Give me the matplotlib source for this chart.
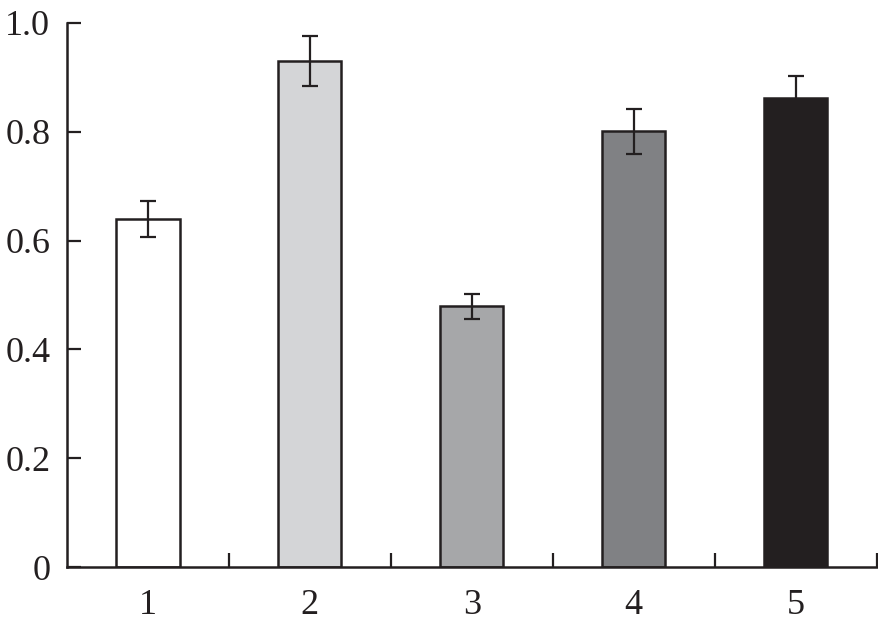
import matplotlib
matplotlib.use('Agg')
import matplotlib.pyplot as plt
import numpy as np

# values
categories = ['1', '2', '3', '4', '5']
means = [0.640, 0.930, 0.479, 0.801, 0.862]
errors = [0.033, 0.046, 0.023, 0.041, 0.041]
bar_colors = ['#ffffff', '#d4d5d7', '#a6a7a9', '#808184', '#231f20']
y_ticks = [0, 0.2, 0.4, 0.6, 0.8, 1.0]
y_tick_labels = ['0', '0.2', '0.4', '0.6', '0.8', '1.0']

plt.rcParams['font.family'] = ['Liberation Serif', 'DejaVu Serif']

fig = plt.figure(figsize=(8.79, 6.28), dpi=100)
ax = fig.add_axes([0.0762, 0.0971, 0.9210, 0.8663])

x = np.arange(1, len(categories) + 1)
edge = '#231f20'
ax.bar(x, means, width=0.39, color=bar_colors, edgecolor=edge, linewidth=1.8, zorder=2)
ax.errorbar(x, means, yerr=errors, fmt='none', ecolor=edge,
            elinewidth=1.6, capsize=6, capthick=1.6, zorder=3)

ax.set_xlim(0.5, len(categories) + 0.5)
ax.set_ylim(0, 1.0)

ax.set_xticks(x)
ax.set_xticklabels(categories)
ax.set_xticks(x + 0.5, minor=True)
ax.set_yticks(y_ticks)
ax.set_yticklabels(y_tick_labels)

for s in ['top', 'right']:
    ax.spines[s].set_visible(False)
for s in ['left', 'bottom']:
    ax.spines[s].set_linewidth(1.8)
    ax.spines[s].set_color(edge)

ax.tick_params(axis='x', which='major', length=0, pad=16, labelsize=26, colors=edge)
ax.tick_params(axis='x', which='minor', direction='in', length=10, width=1.6, color=edge)
ax.tick_params(axis='y', direction='in', length=10, width=1.6, pad=12,
               labelsize=26, colors=edge)

fig.savefig('out.png', dpi=100)
